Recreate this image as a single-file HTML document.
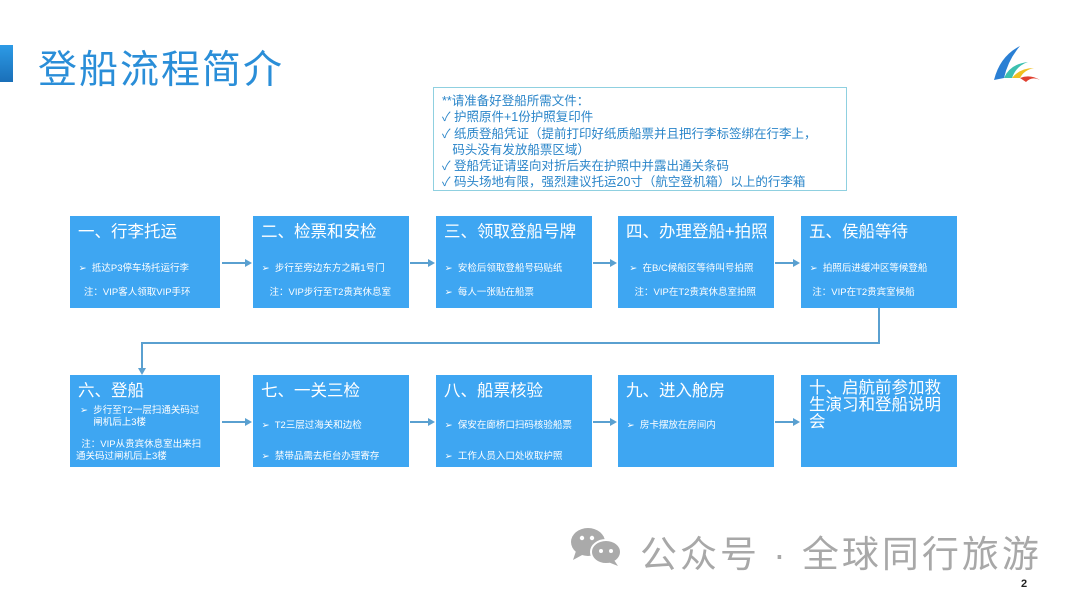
<!DOCTYPE html>
<html><head><meta charset="utf-8"><style>
body{margin:0;width:1080px;height:607px;background:#fff;position:relative;overflow:hidden;font-family:"Liberation Sans","Noto Sans CJK SC",sans-serif}
.t{position:absolute;left:38px;top:39px;font-size:39px;color:#2a8ed8;letter-spacing:2px}
.bar{position:absolute;left:0;top:45px;width:13px;height:37px;background:linear-gradient(#2d9be6,#1a6fb8)}
.note{position:absolute;left:433px;top:87px;width:414px;height:104px;border:1.5px solid #8fd0e0;font-size:12.5px;line-height:16.3px;color:#2a85c9;padding:5px 0 0 8px;box-sizing:border-box}
.b{position:absolute;width:156px;height:92px;background:#3ea6f2;color:#fff;box-sizing:border-box;padding:5px 6px}
.b h{display:block;font-size:16.5px;line-height:22px;margin:0 0 20px 2px}
.b p{margin:0;font-size:9.5px;line-height:12px;margin-bottom:12px}
.b.r2 h{margin-bottom:18px}
.b.r2 p{margin-bottom:19px}
.ar{position:absolute;height:1.5px;background:#5aa0d0}
.ar:after{content:"";position:absolute;right:-2px;top:-3.5px;border-left:7px solid #5aa0d0;border-top:4px solid transparent;border-bottom:4px solid transparent}
.wm{position:absolute;left:640px;top:524px;font-size:37px;color:#a8a8a8;letter-spacing:3px}
</style></head><body>
<div class="bar"></div>
<div class="t">登船流程简介</div>
<svg style="position:absolute;left:990px;top:42px" width="56" height="42" viewBox="0 0 56 42">
<path d="M4 38 Q10 14 30 4 Q18 18 14 36Z" fill="#2a7fd4"/>
<path d="M14 36 Q20 22 38 20 Q26 24 22 36Z" fill="#3cc0b0"/>
<path d="M22 36 Q30 26 44 26 Q34 28 30 36Z" fill="#f0c020"/>
<path d="M30 36 Q40 32 50 38 Q42 34 36 40Z" fill="#e04030"/>
</svg>
<div class="note">**请准备好登船所需文件：<br>✓ 护照原件+1份护照复印件<br>✓ 纸质登船凭证（提前打印好纸质船票并且把行李标签绑在行李上，<br>&nbsp;&nbsp;&nbsp;码头没有发放船票区域）<br>✓ 登船凭证请竖向对折后夹在护照中并露出通关条码<br>✓ 码头场地有限，强烈建议托运20寸（航空登机箱）以上的行李箱</div>

<div class="b" style="left:70px;top:216px;width:150px"><h>一、行李托运</h><p>&nbsp;➢&nbsp; 抵达P3停车场托运行李</p><p>&nbsp;&nbsp;&nbsp;注：VIP客人领取VIP手环</p></div>
<div class="b" style="left:253px;top:216px"><h>二、检票和安检</h><p>&nbsp;➢&nbsp; 步行至旁边东方之睛1号门</p><p>&nbsp;&nbsp;&nbsp;&nbsp;注：VIP步行至T2贵宾休息室</p></div>
<div class="b" style="left:436px;top:216px"><h>三、领取登船号牌</h><p>&nbsp;➢&nbsp; 安检后领取登船号码贴纸</p><p>&nbsp;➢&nbsp; 每人一张贴在船票</p></div>
<div class="b" style="left:618px;top:216px"><h>四、办理登船+拍照</h><p>&nbsp;&nbsp;➢&nbsp; 在B/C候船区等待叫号拍照</p><p>&nbsp;&nbsp;&nbsp;&nbsp;注：VIP在T2贵宾休息室拍照</p></div>
<div class="b" style="left:801px;top:216px"><h>五、侯船等待</h><p>&nbsp;➢&nbsp; 拍照后进缓冲区等候登船</p><p>&nbsp;&nbsp;注：VIP在T2贵宾室候船</p></div>

<div class="b" style="left:70px;top:375px;width:150px"><h style="margin-bottom:3px">六、登船</h><p style="padding-left:4px">➢&nbsp; 步行至T2一层扫通关码过<br>&nbsp;&nbsp;&nbsp;&nbsp;&nbsp;闸机后上3楼</p><p style="margin-top:-2px">&nbsp;&nbsp;注：VIP从贵宾休息室出来扫<br>通关码过闸机后上3楼</p></div>
<div class="b r2" style="left:253px;top:375px"><h>七、一关三检</h><p>&nbsp;➢&nbsp; T2三层过海关和边检</p><p>&nbsp;➢&nbsp; 禁带品需去柜台办理寄存</p></div>
<div class="b r2" style="left:436px;top:375px"><h>八、船票核验</h><p>&nbsp;➢&nbsp; 保安在廊桥口扫码核验船票</p><p>&nbsp;➢&nbsp; 工作人员入口处收取护照</p></div>
<div class="b r2" style="left:618px;top:375px"><h>九、进入舱房</h><p>&nbsp;➢&nbsp; 房卡摆放在房间内</p></div>
<div class="b" style="left:801px;top:375px"><h style="line-height:17px">十、启航前参加救生演习和登船说明会</h></div>

<div class="ar" style="left:222px;top:262px;width:28px"></div>
<div class="ar" style="left:410px;top:262px;width:23px"></div>
<div class="ar" style="left:593px;top:262px;width:22px"></div>
<div class="ar" style="left:775px;top:262px;width:23px"></div>
<div class="ar" style="left:222px;top:421px;width:28px"></div>
<div class="ar" style="left:410px;top:421px;width:23px"></div>
<div class="ar" style="left:593px;top:421px;width:22px"></div>
<div class="ar" style="left:775px;top:421px;width:23px"></div>
<div style="position:absolute;left:878px;top:308px;width:1.5px;height:35px;background:#5aa0d0"></div>
<div style="position:absolute;left:141px;top:342px;width:739px;height:1.5px;background:#5aa0d0"></div>
<div style="position:absolute;left:141px;top:342px;width:1.5px;height:28px;background:#5aa0d0"></div>
<div style="position:absolute;left:138px;top:368px;border-top:7px solid #5aa0d0;border-left:4px solid transparent;border-right:4px solid transparent"></div>

<svg style="position:absolute;left:568px;top:527px" width="56" height="40" viewBox="0 0 56 40">
<ellipse cx="20" cy="15" rx="17" ry="14" fill="#aaa"/><path d="M8 24 L5 33 L16 27Z" fill="#aaa"/>
<ellipse cx="38" cy="25" rx="15" ry="12" fill="#aaa" stroke="#fff" stroke-width="2"/><path d="M46 33 L50 39 L40 35Z" fill="#aaa"/>
<circle cx="14" cy="11" r="2.2" fill="#fff"/><circle cx="24" cy="11" r="2.2" fill="#fff"/><circle cx="33" cy="24" r="2" fill="#fff"/><circle cx="43" cy="24" r="2" fill="#fff"/>
</svg>
<div class="wm">公众号 · 全球同行旅游</div>
<div style="position:absolute;left:1021px;top:578px;font-size:11px;font-weight:bold;color:#222">2</div>
</body></html>
